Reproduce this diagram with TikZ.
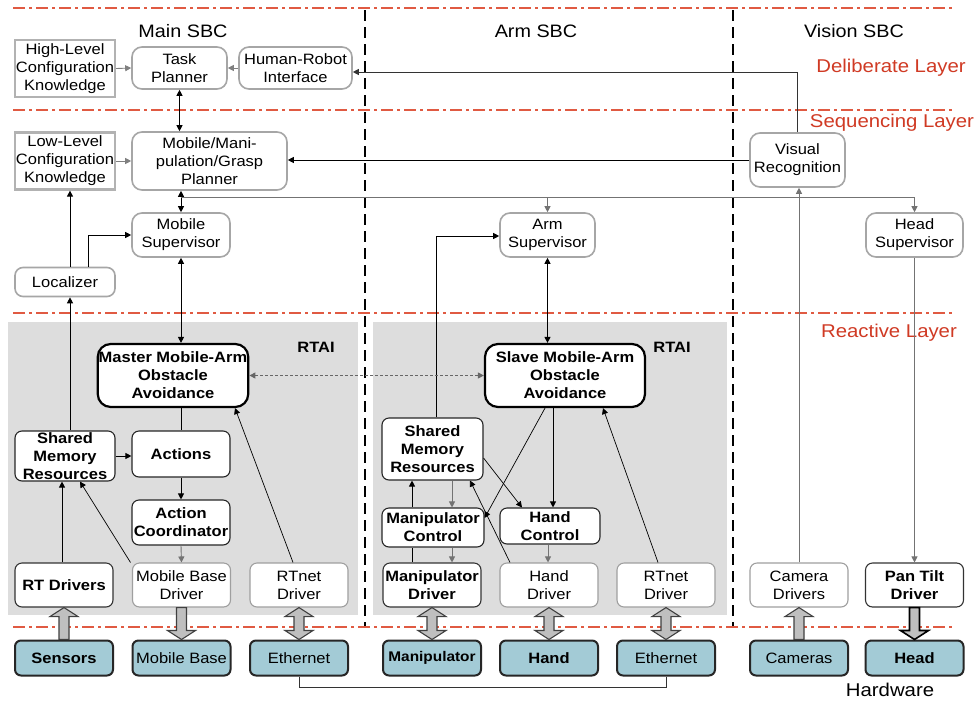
\documentclass[tikz,border=0pt]{standalone}
\usepackage{fontspec}
\setmainfont{Liberation Sans}[FakeStretch=1.1]
\usetikzlibrary{arrows.meta,calc}
\definecolor{laycol}{RGB}{224,90,66}
\definecolor{labcol}{RGB}{208,58,36}
\definecolor{hwfill}{RGB}{163,203,214}
\definecolor{rtaicol}{RGB}{221,221,221}
\newcommand\nf{\fontsize{15}{18}\selectfont}
\newcommand\blkup[2]{\filldraw[blk] let \p1=(#1.north), \p2=(#2.south) in
 (\x1-5pt,\y1) -- (\x1-5pt,\y2-9pt) -- (\x1-14pt,\y2-9pt) -- (\x1,\y2) -- (\x1+14pt,\y2-9pt) -- (\x1+5pt,\y2-9pt) -- (\x1+5pt,\y1) -- cycle;}
\newcommand\blkdown[2]{\filldraw[blk] let \p1=(#1.south), \p2=(#2.north) in
 (\x1-5pt,\y1) -- (\x1-5pt,\y2+9pt) -- (\x1-14pt,\y2+9pt) -- (\x1,\y2) -- (\x1+14pt,\y2+9pt) -- (\x1+5pt,\y2+9pt) -- (\x1+5pt,\y1) -- cycle;}
\newcommand\blkboth[2]{\filldraw[blk] let \p1=(#1.north), \p2=(#2.south) in
 (\x1-5pt,\y1+9pt) -- (\x1-14pt,\y1+9pt) -- (\x1,\y1) -- (\x1+14pt,\y1+9pt) -- (\x1+5pt,\y1+9pt) -- (\x1+5pt,\y2-9pt) -- (\x1+14pt,\y2-9pt) -- (\x1,\y2) -- (\x1-14pt,\y2-9pt) -- (\x1-5pt,\y2-9pt) -- cycle;}
\begin{document}
\begin{tikzpicture}[x=1pt,y=-1pt,
 every node/.style={font=\nf, align=center, inner sep=1pt},
 know/.style={draw=gray!60, line width=2.2pt, fill=white, minimum width=100pt, minimum height=57pt},
 upper/.style={draw=gray!70, line width=1.6pt, rounded corners=10pt, fill=white},
 oa/.style={draw=black, line width=2.2pt, rounded corners=13pt, fill=white, font=\nf\bfseries, minimum height=63pt},
 rb/.style={draw=black!85, line width=1.1pt, rounded corners=7pt, fill=white, font=\nf\bfseries},
 drv/.style={draw=gray!75, line width=1.1pt, rounded corners=7pt, fill=white, minimum width=98pt, minimum height=44pt},
 drvb/.style={drv, draw=black!80, font=\nf\bfseries},
 hw/.style={draw=black!85, line width=2pt, rounded corners=6pt, fill=hwfill, minimum width=98pt, minimum height=35pt},
 hwb/.style={hw, font=\nf\bfseries},
 arr/.style={-{Triangle[length=6pt,width=6pt]}, line width=0.9pt},
 darr/.style={{Triangle[length=6pt,width=6pt]}-{Triangle[length=6pt,width=6pt]}, line width=0.9pt},
 layer/.style={laycol, line width=1.3pt, dash pattern=on 12pt off 4pt on 3pt off 4pt},
 sbc/.style={line width=1.8pt, dash pattern=on 11pt off 6pt},
 blk/.style={fill=gray!50, draw=black!75, line width=1.1pt, line join=miter},
 lab/.style={labcol, font=\fontsize{18.5}{22}\selectfont},
 ttl/.style={font=\fontsize{18}{22}\selectfont}]
\useasboundingbox (0,0) rectangle (980,702);
\fill[white] (0,0) rectangle (980,702);
% RTAI regions
\fill[rtaicol] (8,322) rectangle (358,615);
\fill[rtaicol] (373,322) rectangle (727,615);
% layer lines
\foreach \yy in {8,110,313,627} \draw[layer] (13,\yy) -- (953,\yy);
% SBC separators
\draw[sbc] (365,10) -- (365,626);
\draw[sbc] (733,10) -- (733,626);
% titles and labels
\node[ttl] (tmain) at (183,31) {Main SBC};
\node[ttl] (tarm) at (536,31) {Arm SBC};
\node[ttl] (tvis) at (854,31) {Vision SBC};
\node[lab] (ldel) at (891,68) {Deliberate Layer};
\node[lab] (lseq) at (892,123) {Sequencing Layer};
\node[lab] (lrea) at (889,333) {Reactive Layer};
\node[font=\fontsize{18.5}{22}\selectfont] (lhw) at (890,690) {Hardware};
\node[font=\nf\bfseries] (rtai1) at (316,347) {RTAI};
\node[font=\nf\bfseries] (rtai2) at (672,347) {RTAI};
% deliberate / sequencing nodes
\node[know] (hlck) at (65,68.5) {High-Level\\Configuration\\Knowledge};
\node[upper, minimum width=95pt, minimum height=42pt] (tp) at (179.5,68) {Task\\Planner};
\node[upper, minimum width=113pt, minimum height=42pt] (hri) at (295.5,68) {Human-Robot\\Interface};
\node[know] (llck) at (65,161) {Low-Level\\Configuration\\Knowledge};
\node[upper, minimum width=155pt, minimum height=58pt] (mp) at (209.5,161) {Mobile/Mani-\\pulation/Grasp\\Planner};
\node[upper, minimum width=95pt, minimum height=54pt] (vr) at (797.5,160) {Visual\\Recognition};
\node[upper, minimum width=98pt, minimum height=44pt] (ms) at (181,235) {Mobile\\Supervisor};
\node[upper, minimum width=95pt, minimum height=44pt] (as) at (547.5,235) {Arm\\Supervisor};
\node[upper, minimum width=97pt, minimum height=44pt] (hs) at (914.5,235) {Head\\Supervisor};
\node[upper, rounded corners=8pt, minimum width=100pt, minimum height=29pt] (loc) at (65,282) {Localizer};
% reactive nodes
\node[oa, minimum width=150pt] (master) at (173,375.5) {Master Mobile-Arm\\Obstacle\\Avoidance};
\node[oa, minimum width=160pt] (slave) at (565,375.5) {Slave Mobile-Arm\\Obstacle\\Avoidance};
\node[rb, minimum width=100pt, minimum height=50pt] (smrL) at (65,456) {Shared\\Memory\\Resources};
\node[rb, minimum width=98pt, minimum height=46pt] (act) at (181,454) {Actions};
\node[rb, minimum width=98pt, minimum height=45pt] (ac) at (181,522.5) {Action\\Coordinator};
\node[rb, minimum width=101pt, minimum height=62pt] (smrA) at (432.5,449) {Shared\\Memory\\Resources};
\node[rb, minimum width=102pt, minimum height=39pt] (mc) at (433,527.5) {Manipulator\\Control};
\node[rb, minimum width=100pt, minimum height=36pt] (hc) at (550,526) {Hand\\Control};
% drivers
\node[drvb] (rtd) at (64,585) {RT Drivers};
\node[drv] (mbd) at (181.5,585) {Mobile Base\\Driver};
\node[drv] (rtn1) at (299,585) {RTnet\\Driver};
\node[drvb] (md) at (432,585) {Manipulator\\Driver};
\node[drv] (hd) at (549,585) {Hand\\Driver};
\node[drv] (rtn2) at (666,585) {RTnet\\Driver};
\node[drv] (camd) at (799,585) {Camera\\Drivers};
\node[drvb] (ptd) at (914.5,585) {Pan Tilt\\Driver};
% hardware
\node[hwb] (sen) at (64,658) {Sensors};
\node[hw] (mb) at (181.5,658) {Mobile Base};
\node[hw] (eth1) at (299,658) {Ethernet};
\node[hwb, font=\fontsize{14}{17}\selectfont\bfseries] (man) at (432,658) {Manipulator};
\node[hwb] (hand) at (549,658) {Hand};
\node[hw] (eth2) at (666,658) {Ethernet};
\node[hw] (cams) at (799,658) {Cameras};
\node[hwb] (head) at (914.5,658) {Head};
% upper connectors
\draw[arr, gray] (hlck.east) -- (tp.west);
\draw[arr, gray] (hri.west) -- (tp.east);
\draw[arr, gray] (llck.east) -- (mp.west);
\draw[darr] (tp.south) -- (tp.south |- mp.north);
\draw[arr, black!80] (vr.north) |- ([yshift=-4pt]hri.east);
\draw[arr] (vr.west) -- (vr.west -| mp.east);
\draw[darr] (ms.north |- mp.south) -- (ms.north);
\coordinate (sp) at (181,197);
\draw[arr, gray!90!black] (sp) -| (as.north);
\draw[arr, gray!90!black] (as.north |- sp) -| (hs.north);
\draw[arr] ([xshift=5pt]loc.north) -- ([xshift=5pt]llck.south);
\draw[arr] ([xshift=23pt]loc.north) |- (ms.west);
\draw[darr] (ms.south) -- (ms.south |- master.north);
\draw[darr] (as.south) -- (as.south |- slave.north);
\draw[arr] ([xshift=3.5pt]smrA.north) |- ([yshift=-1pt]as.west);
\draw[arr, gray!90!black] (camd.north) -- (camd.north |- vr.south);
\draw[arr, gray!90!black] (hs.south) -- (ptd.north);
% reactive connectors
\draw[darr, densely dashed, gray!80!black] (master.east) -- (slave.west);
\draw[line width=0.9pt] (act.north |- master.south) -- (act.north);
\draw[arr] (smrL.east) -- (smrL.east -| act.west);
\draw[arr] (act.south) -- (ac.north);
\draw[arr, gray!90!black] (ac.south) -- (mbd.north);
\draw[arr] ([xshift=5pt]smrL.north) -- ([xshift=5pt]loc.south);
\draw[arr] ([xshift=-2pt]rtd.north) -- ([xshift=-2pt]rtd.north |- smrL.south);
\draw[arr, line width=0.7pt] ([xshift=-51pt]mbd.north) -- ([xshift=15pt]smrL.south);
\draw[arr, line width=0.7pt] ([xshift=-6pt]rtn1.north) -- ([xshift=62pt]master.south);
\draw[arr, gray!90!black] ([xshift=19.5pt]smrA.south) -- ([xshift=19.5pt]smrA.south |- mc.north);
\draw[arr] ([xshift=-20.5pt]smrA.south |- mc.north) -- ([xshift=-20.5pt]smrA.south);
\draw[line width=0.9pt] ([xshift=-20pt]md.north) -- ([xshift=-20pt]md.north |- mc.south);
\draw[arr, gray!90!black] ([xshift=20pt]md.north |- mc.south) -- ([xshift=20pt]md.north);
\draw[arr] ([xshift=3pt]hc.north |- slave.south) -- ([xshift=3pt]hc.north);
\draw[arr, line width=0.7pt] ([xshift=-20pt]slave.south) -- ([yshift=9.5pt]mc.east);
\draw[arr, line width=0.7pt] ([yshift=-9pt]smrA.east) -- ([xshift=-28pt]hc.north);
\draw[arr, line width=0.7pt] ([xshift=-39pt]hd.north) -- ([xshift=37.5pt]smrA.south);
\draw[arr, gray!90!black] ([xshift=-2pt]hc.south) -- ([xshift=-2pt]hc.south |- hd.north);
\draw[arr, line width=0.7pt] ([xshift=-8pt]rtn2.north) -- ([xshift=38pt]slave.south);
% block arrows
\blkup{sen}{rtd}
\blkdown{mbd}{mb}
\blkboth{eth1}{rtn1}
\blkboth{man}{md}
\blkboth{hand}{hd}
\blkboth{eth2}{rtn2}
\blkup{cams}{camd}
\begin{scope}[blk/.append style={draw=black, line width=1.6pt}]
\blkdown{ptd}{head}
\end{scope}
% ethernet link
\draw[line width=0.9pt, black!80] (eth1.south) -- ++(0,11) -| (eth2.south);
\end{tikzpicture}
\end{document}
